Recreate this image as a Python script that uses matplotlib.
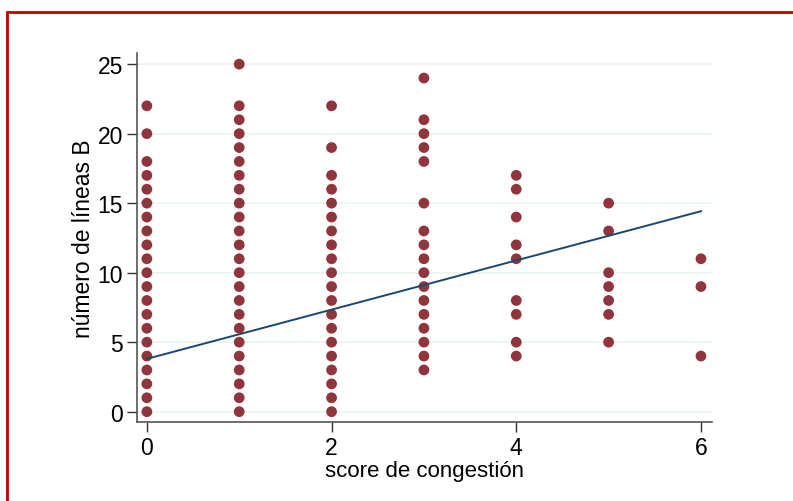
import matplotlib
matplotlib.use("Agg")
import matplotlib.pyplot as plt
from matplotlib.patches import Rectangle

# values (one dot per distinct value)
score = [0, 1, 2, 3, 4, 5, 6]
lineas = [
    [0, 1, 2, 3, 4, 5, 6, 7, 8, 9, 10, 11, 12, 13, 14, 15, 16, 17, 18, 20, 22],
    [0, 1, 2, 3, 4, 5, 6, 7, 8, 9, 10, 11, 12, 13, 14, 15, 16, 17, 18, 19, 20, 21, 22, 25],
    [0, 1, 2, 3, 4, 5, 6, 7, 8, 9, 10, 11, 12, 13, 14, 15, 16, 17, 19, 22],
    [3, 4, 5, 6, 7, 8, 9, 10, 11, 12, 13, 15, 18, 19, 20, 21, 24],
    [4, 5, 7, 8, 11, 12, 14, 16, 17],
    [5, 7, 8, 9, 10, 13, 15],
    [4, 9, 11],
]

# fitted line (intercept, slope)
fit_intercept = 3.8
fit_slope = 1.77

xticks = [0, 2, 4, 6]
yticks = [0, 5, 10, 15, 20, 25]

plt.rcParams['font.family'] = ['Liberation Sans', 'DejaVu Sans']

fig = plt.figure(figsize=(7.93, 5.02), dpi=100)
ax = fig.add_axes([0.1724, 0.158, 0.7255, 0.7344])

for s, vals in zip(score, lineas):
    ax.scatter([s] * len(vals), vals, s=60, color='#90353b', edgecolors='none', zorder=3)

fx = [score[0], score[-1]]
fy = [fit_intercept + fit_slope * v for v in fx]
ax.plot(fx, fy, color='#1a476f', linewidth=1.4, zorder=4)

ax.set_xlim(-0.11, 6.12)
ax.set_ylim(-0.72, 25.8)
ax.set_xticks(xticks)
ax.set_yticks(yticks)
ax.tick_params(axis='both', direction='out', length=7, width=1, labelsize=16.5,
               color='#333333', pad=3)

ax.grid(axis='y', color='#eaf2f3', linewidth=1.2)
ax.set_axisbelow(True)
for side in ['top', 'right']:
    ax.spines[side].set_visible(False)
for side in ['left', 'bottom']:
    ax.spines[side].set_color('#555555')
    ax.spines[side].set_linewidth(1.2)

ax.set_xlabel('score de congestión', fontsize=16, labelpad=1)
ax.set_ylabel('número de líneas B', fontsize=16.5, labelpad=2)

# red frame around the graph region
fig.patches.append(Rectangle((7 / 793, -0.1), 1.2, 1 - 13 / 502 + 0.1,
                             transform=fig.transFigure, fill=False,
                             edgecolor='#c00000', linewidth=2))

fig.savefig('out.png', dpi=100)
